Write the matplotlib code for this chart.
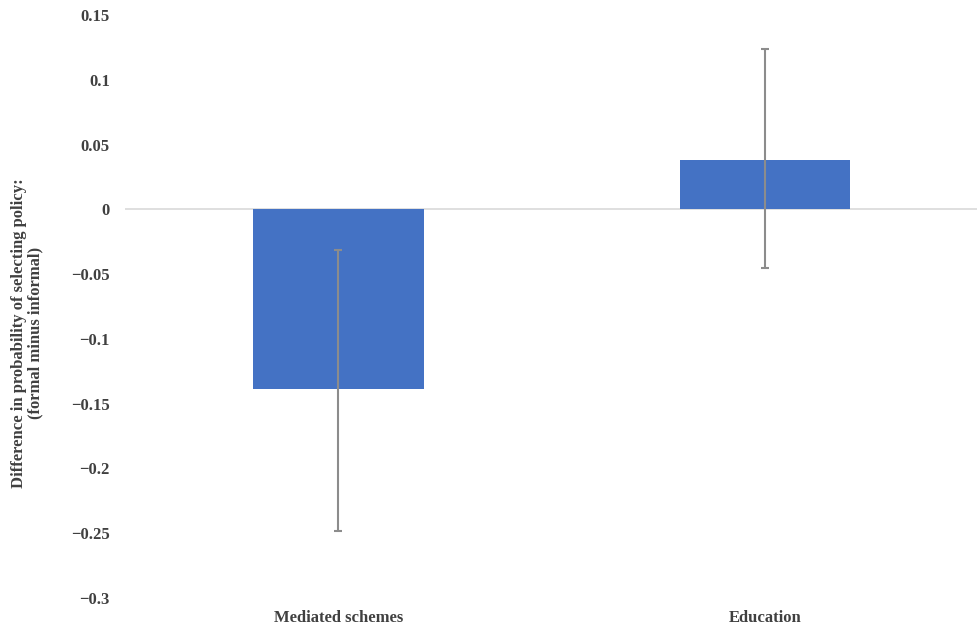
import numpy as np
import matplotlib.pyplot as plt
from matplotlib.ticker import FuncFormatter

categories = ["Mediated schemes", "Education"]
diff = [-0.139, 0.038]
ci_low = [-0.248, -0.045]
ci_high = [-0.031, 0.124]

plt.rcParams['font.family'] = ['Liberation Serif', 'DejaVu Serif']


def fmt(v, pos):
    v = round(v, 2)
    if v == 0:
        return "0"
    return ("%g" % v).replace("-", "\u2212")


fig = plt.figure(figsize=(9.78, 6.31), dpi=100)
ax = fig.add_axes([0.128, 0.0523, 0.872, 0.9239])

x = np.arange(len(categories))
diff = np.array(diff)
yerr = np.array([diff - np.array(ci_low), np.array(ci_high) - diff])

ax.bar(x, diff, width=0.4, color="#4472c4", zorder=2)
ax.axhline(0, color="#d9d9d9", lw=1.2, zorder=1)
ax.errorbar(x, diff, yerr=yerr, fmt="none", ecolor="#8c8c8c",
            elinewidth=1.5, capsize=3, capthick=1.5, zorder=3)

ax.set_xlim(-0.5, 1.5)
ax.set_ylim(-0.3, 0.15)
ax.set_yticks(np.arange(-0.3, 0.151, 0.05))
ax.yaxis.set_major_formatter(FuncFormatter(fmt))
ax.set_xticks(x)
ax.set_xticklabels(categories)

for s in ax.spines.values():
    s.set_visible(False)
ax.tick_params(length=0, labelsize=12, labelcolor="#404040")
ax.tick_params(axis="y", pad=11)
ax.tick_params(axis="x", pad=9)
for lbl in ax.get_xticklabels() + ax.get_yticklabels():
    lbl.set_fontweight("bold")

fig.text(0.028, 0.472, "Difference in probability of selecting policy:\n(formal minus informal)",
         rotation=90, ha="center", va="center", fontsize=12, fontweight="bold",
         color="#404040", linespacing=1.0)

fig.savefig("out.png", dpi=100)
